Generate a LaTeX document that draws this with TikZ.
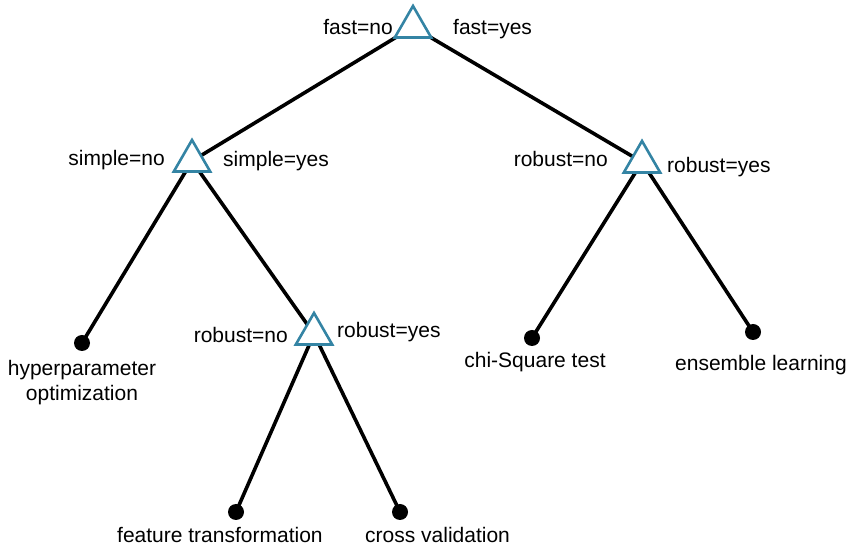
\documentclass[tikz,border=0pt]{standalone}
\usepackage{fontspec}
\setmainfont{Liberation Sans}
\usetikzlibrary{shapes.geometric,backgrounds}
\definecolor{tri}{RGB}{52,132,164}
\tikzset{
  decision/.style={regular polygon, regular polygon sides=3, draw=tri, line width=2.6pt, fill=white, minimum size=42pt, inner sep=0pt},
  leaf/.style={circle, fill=black, minimum size=16pt, inner sep=0pt},
  edge/.style={line width=3.6pt, black},
  lbl/.style={inner sep=0pt, font=\fontsize{21}{24.5}\selectfont},
}
\begin{document}
\begin{tikzpicture}[x=1pt,y=1pt]
\useasboundingbox (0,0) rectangle (851,551);
% decision nodes
\node[decision] (t0) at (413,524) {};
\node[decision] (t1) at (192,390) {};
\node[decision] (t2) at (314,217) {};
\node[decision] (t3) at (642,389) {};
% leaves
\node[leaf] (hyp) at (82,208) {};
\node[leaf] (feat) at (236,39) {};
\node[leaf] (cross) at (400,39) {};
\node[leaf] (chi) at (532,213) {};
\node[leaf] (ens) at (753,219) {};
% edges
\begin{scope}[on background layer]
\draw[edge] (t0.center) -- (t1.center);
\draw[edge] (t0.center) -- (t3.center);
\draw[edge] (t1.center) -- (hyp.center);
\draw[edge] (t1.center) -- (t2.center);
\draw[edge] (t2.center) -- (feat.center);
\draw[edge] (t2.center) -- (cross.center);
\draw[edge] (t3.center) -- (chi.center);
\draw[edge] (t3.center) -- (ens.center);
\end{scope}
% branch labels
\node[lbl, anchor=base east] (l0a) at (393,516) {fast=no};
\node[lbl, anchor=base west] (l0b) at (453,516) {fast=yes};
\node[lbl, anchor=base east] (l1a) at (165,385) {simple=no};
\node[lbl, anchor=base west] (l1b) at (223,384) {simple=yes};
\node[lbl, anchor=base east] (l2a) at (288,208) {robust=no};
\node[lbl, anchor=base west] (l2b) at (337,213) {robust=yes};
\node[lbl, anchor=base east] (l3a) at (608,384) {robust=no};
\node[lbl, anchor=base west] (l3b) at (667,378) {robust=yes};
% leaf labels
\node[lbl, anchor=north, align=center] (thyp) at (82,190.5) {hyperparameter\\optimization};
\node[lbl, anchor=base west] (tfeat) at (117,8) {feature transformation};
\node[lbl, anchor=base west] (tcross) at (365,8) {cross validation};
\node[lbl, anchor=base] (tchi) at (535,183) {chi-Square test};
\node[lbl, anchor=base] (tens) at (761,180) {ensemble learning};
\end{tikzpicture}
\end{document}
